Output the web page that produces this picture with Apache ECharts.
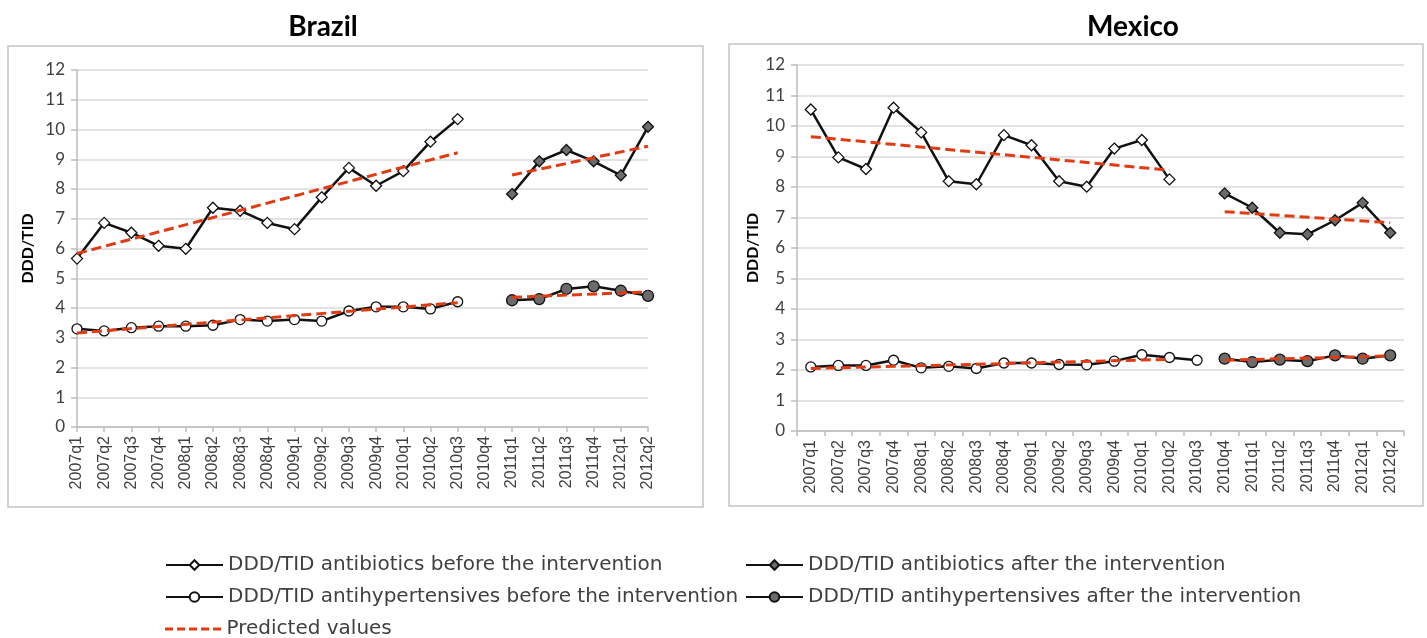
<!DOCTYPE html>
<html>
<head>
<meta charset="utf-8">
<script src="https://cdn.jsdelivr.net/npm/echarts@6/dist/echarts.min.js"></script>
<style>
html,body{margin:0;padding:0;background:#fff;}
#chart{width:1427px;height:638px;}
</style>
</head>
<body>
<div id="chart"></div>
<script>
// ---- categories ----
const categories = ['2007q1','2007q2','2007q3','2007q4','2008q1','2008q2','2008q3','2008q4',
  '2009q1','2009q2','2009q3','2009q4','2010q1','2010q2','2010q3','2010q4',
  '2011q1','2011q2','2011q3','2011q4','2012q1','2012q2'];
const yTicks = [0,1,2,3,4,5,6,7,8,9,10,11,12];

// ---- Brazil ----
const brazilAbBeforeStart = '2007q1';
const brazilAbBefore = [5.66,6.86,6.53,6.09,5.99,7.37,7.27,6.86,6.65,7.72,8.71,8.11,8.60,9.59,10.35];
const brazilAbAfterStart = '2011q1';
const brazilAbAfter = [7.83,8.93,9.31,8.93,8.46,10.09];
const brazilAhBeforeStart = '2007q1';
const brazilAhBefore = [3.30,3.23,3.34,3.39,3.39,3.42,3.61,3.56,3.61,3.56,3.90,4.04,4.04,3.97,4.21];
const brazilAhAfterStart = '2011q1';
const brazilAhAfter = [4.26,4.30,4.64,4.73,4.58,4.41];
const brazilPredAbBefore = [['2007q1',5.83],['2010q3',9.22]];
const brazilPredAbAfter = [['2011q1',8.47],['2012q2',9.44]];
const brazilPredAhBefore = [['2007q1',3.16],['2010q3',4.18]];
const brazilPredAhAfter = [['2011q1',4.36],['2012q2',4.54]];

// ---- Mexico ----
const mexicoAbBeforeStart = '2007q1';
const mexicoAbBefore = [10.54,8.97,8.59,10.60,9.79,8.19,8.09,9.70,9.37,8.19,8.01,9.26,9.54,8.25];
const mexicoAbAfterStart = '2010q4';
const mexicoAbAfter = [7.79,7.32,6.50,6.45,6.91,7.48,6.50];
const mexicoAhBeforeStart = '2007q1';
const mexicoAhBefore = [2.10,2.15,2.15,2.32,2.07,2.12,2.05,2.23,2.23,2.18,2.17,2.29,2.50,2.41,2.32];
const mexicoAhAfterStart = '2010q4';
const mexicoAhAfter = [2.37,2.26,2.34,2.29,2.48,2.37,2.48];
const mexicoPredAbBefore = [['2007q1',9.65],['2010q2',8.55]];
const mexicoPredAbAfter = [['2010q4',7.19],['2012q2',6.83]];
const mexicoPredAhBefore = [['2007q1',2.05],['2010q2',2.35]];
const mexicoPredAhAfter = [['2010q4',2.32],['2012q2',2.46]];

// ---- names ----
const N_AB_BEFORE = 'DDD/TID antibiotics before the intervention';
const N_AB_AFTER = 'DDD/TID antibiotics after the intervention';
const N_AH_BEFORE = 'DDD/TID antihypertensives before the intervention';
const N_AH_AFTER = 'DDD/TID antihypertensives after the intervention';
const N_PRED = 'Predicted values';

function pairs(start, values) {
  const s = categories.indexOf(start);
  return values.map((v, i) => [categories[s + i], v]);
}

const RED = '#e03c14';
const GRAY_FILL = '#6b6b6b';

function dataSeries(name, idx, data, symbol, size, fill) {
  return {
    name: name, type: 'line', xAxisIndex: idx, yAxisIndex: idx,
    data: data, symbol: symbol, symbolSize: size, showAllSymbol: true,
    lineStyle: {color: '#111', width: 2.5},
    itemStyle: {color: fill, borderColor: '#111', borderWidth: 1.3},
    z: 3, animation: false
  };
}
function predSeries(idx, data) {
  return {
    name: N_PRED, type: 'line', xAxisIndex: idx, yAxisIndex: idx,
    data: data, symbol: 'none', connectNulls: true,
    lineStyle: {color: RED, width: 3, type: [10, 5]},
    itemStyle: {color: RED},
    z: 4, animation: false
  };
}

function xAxis(idx, gap) {
  return {
    type: 'category', gridIndex: idx, data: categories, boundaryGap: gap,
    axisLine: {lineStyle: {color: '#bdbdbd', width: 1.5}},
    axisTick: {show: true, length: 5, lineStyle: {color: '#bdbdbd', width: 1.5}},
    axisLabel: {rotate: 90, interval: 0, fontFamily: 'Liberation Sans', fontSize: 16, color: '#404040', margin: 9},
    splitLine: {show: false}
  };
}
function yAxis(idx, gap) {
  return {
    type: 'value', gridIndex: idx, min: 0, max: 12, interval: 1,
    name: 'DDD/TID', nameLocation: 'middle', nameRotate: 90, nameGap: gap,
    nameTextStyle: {fontFamily: 'Lato', fontWeight: 'bold', fontSize: 16, color: '#000'},
    axisLine: {show: true, lineStyle: {color: '#bdbdbd', width: 1.5}},
    axisTick: {show: true, length: 6, lineStyle: {color: '#bdbdbd', width: 1.5}},
    axisLabel: {fontFamily: 'Lato', fontSize: 17, color: '#404040', margin: 12,
      formatter: v => String(yTicks[yTicks.indexOf(v)])},
    splitLine: {show: true, lineStyle: {color: '#d9d9d9', width: 1.5}}
  };
}

const legendText = {fontFamily: 'DejaVu Sans', fontSize: 20, color: '#404040', lineHeight: 20};
function legendItem(name, left, centerY) {
  return {orient: 'horizontal', left: left, top: centerY - 10, padding: 0,
    itemWidth: 57, itemHeight: 12, textStyle: legendText, data: [name], selectedMode: false};
}
const DASH_ICON = 'path://M0,0h8v3h-8zM12,0h8v3h-8zM24,0h8v3h-8zM36,0h8v3h-8zM48,0h8v3h-8z';

const chart = echarts.init(document.getElementById('chart'), null, {renderer: 'canvas'});
const option = {
  backgroundColor: '#fff',
  animation: false,
  title: [
    {text: 'Brazil', left: 318, top: 8, textAlign: 'center',
      textStyle: {fontFamily: 'Lato', fontWeight: 'bold', fontSize: 28, color: '#000'}},
    {text: 'Mexico', left: 1128, top: 8, textAlign: 'center',
      textStyle: {fontFamily: 'Lato', fontWeight: 'bold', fontSize: 28, color: '#000'}}
  ],
  graphic: [
    {type: 'rect', shape: {x: 8, y: 46, width: 695, height: 461}, z: -10,
      style: {fill: 'none', stroke: '#c4c4c4', lineWidth: 1.5}},
    {type: 'rect', shape: {x: 729, y: 44, width: 694, height: 462}, z: -10,
      style: {fill: 'none', stroke: '#c4c4c4', lineWidth: 1.5}}
  ],
  legend: [
    legendItem(N_AB_BEFORE, 165, 565),
    legendItem(N_AH_BEFORE, 165, 597),
    {orient: 'horizontal', left: 165, top: 619, padding: 0,
      itemWidth: 57, itemHeight: 3, textStyle: legendText, selectedMode: false,
      data: [{name: N_PRED, icon: DASH_ICON, itemStyle: {color: RED}}]},
    legendItem(N_AB_AFTER, 745, 565),
    legendItem(N_AH_AFTER, 745, 597)
  ],
  grid: [
    {left: 77, right: 779, top: 70, bottom: 211, containLabel: false},
    {left: 797, right: 23, top: 65, bottom: 207, containLabel: false}
  ],
  xAxis: [xAxis(0, false), xAxis(1, true)],
  yAxis: [yAxis(0, 41), yAxis(1, 36)],
  series: [
    dataSeries(N_AB_BEFORE, 0, pairs(brazilAbBeforeStart, brazilAbBefore), 'diamond', 11, '#fff'),
    dataSeries(N_AB_AFTER, 0, pairs(brazilAbAfterStart, brazilAbAfter), 'diamond', 11, GRAY_FILL),
    dataSeries(N_AH_BEFORE, 0, pairs(brazilAhBeforeStart, brazilAhBefore), 'circle', 10, '#fff'),
    dataSeries(N_AH_AFTER, 0, pairs(brazilAhAfterStart, brazilAhAfter), 'circle', 11, GRAY_FILL),
    predSeries(0, brazilPredAbBefore),
    predSeries(0, brazilPredAbAfter),
    predSeries(0, brazilPredAhBefore),
    predSeries(0, brazilPredAhAfter),
    dataSeries(N_AB_BEFORE, 1, pairs(mexicoAbBeforeStart, mexicoAbBefore), 'diamond', 11, '#fff'),
    dataSeries(N_AB_AFTER, 1, pairs(mexicoAbAfterStart, mexicoAbAfter), 'diamond', 11, GRAY_FILL),
    dataSeries(N_AH_BEFORE, 1, pairs(mexicoAhBeforeStart, mexicoAhBefore), 'circle', 10, '#fff'),
    dataSeries(N_AH_AFTER, 1, pairs(mexicoAhAfterStart, mexicoAhAfter), 'circle', 11, GRAY_FILL),
    predSeries(1, mexicoPredAbBefore),
    predSeries(1, mexicoPredAbAfter),
    predSeries(1, mexicoPredAhBefore),
    predSeries(1, mexicoPredAhAfter)
  ]
};
chart.setOption(option);
</script>
</body>
</html>
